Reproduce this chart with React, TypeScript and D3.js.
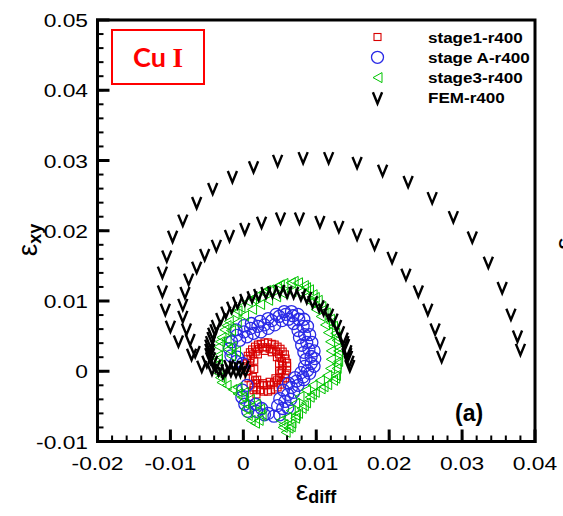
import React from 'react';
import * as d3 from 'd3';

const xDomain: [number, number] = [-0.02, 0.04];
const yDomain: [number, number] = [-0.01, 0.05];
const xTicks = [-0.02, -0.01, 0, 0.01, 0.02, 0.03, 0.04];
const yTicks = [-0.01, 0, 0.01, 0.02, 0.03, 0.04, 0.05];
const xTickLabels = ['-0.02', '-0.01', '0', '0.01', '0.02', '0.03', '0.04'];
const yTickLabels = ['-0.01', '0', '0.01', '0.02', '0.03', '0.04', '0.05'];
const legendLabels = ['stage1-r400', 'stage A-r400', 'stage3-r400', 'FEM-r400'];

// stage1-r400 (red squares)
const stage1: [number, number][] = [
  [0.0005, 0.0000], [0.0003, 0.0011], [0.0006, 0.0022], [0.0012, 0.0031], [0.0020, 0.0038], [0.0029, 0.0041],
  [0.0039, 0.0039], [0.0047, 0.0035], [0.0054, 0.0028], [0.0058, 0.0018], [0.0060, 0.0007], [0.0058, -0.0005],
  [0.0054, -0.0014], [0.0047, -0.0023], [0.0038, -0.0027], [0.0028, -0.0029], [0.0018, -0.0026], [0.0010, -0.0019],
  [0.0015, 0.0003], [0.0015, 0.0015], [0.0020, 0.0024], [0.0029, 0.0029], [0.0039, 0.0027], [0.0046, 0.0020],
  [0.0049, 0.0011], [0.0049, 0.0000], [0.0044, -0.0010], [0.0036, -0.0015], [0.0027, -0.0017], [0.0019, -0.0012],
  [0.0010, 0.0005], [0.0010, 0.0018], [0.0017, 0.0028], [0.0027, 0.0034], [0.0036, 0.0032], [0.0045, 0.0028],
  [0.0051, 0.0019], [0.0054, 0.0008], [0.0051, -0.0003], [0.0046, -0.0013], [0.0038, -0.0019], [0.0028, -0.0020],
  [0.0018, -0.0017], [0.0013, -0.0008], [0.0014, -0.0027], [0.0018, -0.0033],
  [0.0009, 0.0012], [0.0013, 0.0024], [0.0021, 0.0032], [0.0032, 0.0034], [0.0040, 0.0031], [0.0049, 0.0024],
  [0.0053, 0.0014], [0.0053, 0.0002], [0.0049, -0.0009], [0.0042, -0.0016], [0.0032, -0.0020], [0.0023, -0.0019],
  [0.0016, -0.0013],
  [0.0003, 0.0005], [0.0005, 0.0017], [0.0009, 0.0027], [0.0016, 0.0035], [0.0024, 0.0039], [0.0034, 0.0041],
  [0.0043, 0.0038], [0.0051, 0.0032], [0.0057, 0.0024], [0.0060, 0.0012], [0.0060, 0.0001], [0.0057, -0.0010],
  [0.0051, -0.0019], [0.0043, -0.0026], [0.0034, -0.0029], [0.0023, -0.0027], [0.0014, -0.0023], [0.0007, -0.0010],
];

// stage A-r400 (blue circles)
const stageA: [number, number][] = [
  [-0.0010, 0.0014], [-0.0017, 0.0022], [-0.0019, 0.0032], [-0.0016, 0.0042], [-0.0009, 0.0051], [0.0001, 0.0056],
  [0.0010, 0.0061], [0.0020, 0.0064], [0.0029, 0.0066], [0.0039, 0.0072], [0.0049, 0.0078], [0.0058, 0.0081],
  [0.0068, 0.0079], [0.0076, 0.0074], [0.0082, 0.0064], [0.0084, 0.0052], [0.0087, 0.0041], [0.0090, 0.0031],
  [0.0093, 0.0021], [0.0093, 0.0011], [0.0088, 0.0001], [0.0082, -0.0008], [0.0073, -0.0014], [0.0066, -0.0023],
  [0.0061, -0.0033], [0.0057, -0.0043], [0.0054, -0.0053], [0.0050, -0.0062], [0.0042, -0.0064], [0.0034, -0.0060],
  [0.0025, -0.0053], [0.0017, -0.0047], [0.0009, -0.0050], [0.0002, -0.0047], [-0.0002, -0.0037], [-0.0001, -0.0027],
  [0.0005, -0.0020],
  [-0.0010, 0.0059], [0.0001, 0.0065], [0.0011, 0.0068], [0.0023, 0.0071], [0.0034, 0.0075], [0.0045, 0.0081],
  [0.0056, 0.0085], [0.0066, 0.0085], [0.0075, 0.0081], [0.0083, 0.0074], [0.0088, 0.0064], [0.0091, 0.0052],
  [0.0094, 0.0041], [0.0097, 0.0029], [0.0098, 0.0018], [0.0097, 0.0007], [0.0091, -0.0003], [0.0083, -0.0012],
  [0.0075, -0.0020], [0.0069, -0.0030], [0.0065, -0.0040], [0.0061, -0.0052],
  [-0.0005, 0.0044], [0.0005, 0.0049], [0.0014, 0.0054], [0.0024, 0.0056], [0.0034, 0.0061], [0.0043, 0.0066],
  [0.0053, 0.0072], [0.0062, 0.0074], [0.0069, 0.0068], [0.0075, 0.0058], [0.0077, 0.0048], [0.0080, 0.0037],
  [0.0083, 0.0027], [0.0086, 0.0017], [0.0084, 0.0007], [0.0079, -0.0002], [0.0071, -0.0009], [0.0062, -0.0017],
  [0.0055, -0.0027], [0.0050, -0.0039], [0.0047, -0.0049],
  [0.0006, -0.0057], [0.0018, -0.0057], [0.0029, -0.0062], [-0.0008, 0.0020], [-0.0001, 0.0011],
];

// stage3-r400 (green left triangles)
const stage3: [number, number][] = [
  [-0.0030, -0.0016], [-0.0034, -0.0003], [-0.0035, 0.0010], [-0.0035, 0.0022], [-0.0034, 0.0035], [-0.0030, 0.0048],
  [-0.0026, 0.0059], [-0.0020, 0.0071], [-0.0012, 0.0082], [-0.0004, 0.0091], [0.0006, 0.0099], [0.0017, 0.0106],
  [0.0027, 0.0112], [0.0036, 0.0116], [0.0046, 0.0120], [0.0055, 0.0125], [0.0065, 0.0126], [0.0075, 0.0126],
  [0.0083, 0.0122], [0.0090, 0.0116], [0.0095, 0.0109], [0.0102, 0.0101], [0.0107, 0.0092], [0.0113, 0.0083],
  [0.0119, 0.0074], [0.0123, 0.0064], [0.0126, 0.0054], [0.0128, 0.0044], [0.0130, 0.0034], [0.0130, 0.0024],
  [0.0130, 0.0014], [0.0128, 0.0004], [0.0127, -0.0006], [0.0123, -0.0013], [0.0115, -0.0019], [0.0106, -0.0025],
  [0.0098, -0.0030], [0.0091, -0.0037], [0.0086, -0.0045], [0.0080, -0.0053], [0.0075, -0.0060], [0.0071, -0.0067],
  [0.0066, -0.0074], [0.0062, -0.0081], [0.0058, -0.0087], [0.0054, -0.0080], [0.0051, -0.0070],
  [-0.0023, 0.0045], [-0.0017, 0.0058], [-0.0009, 0.0069], [0.0001, 0.0079], [0.0012, 0.0088], [0.0023, 0.0095],
  [0.0034, 0.0101], [0.0045, 0.0106], [0.0055, 0.0110], [0.0066, 0.0113], [0.0077, 0.0112], [0.0086, 0.0106],
  [0.0093, 0.0098], [0.0099, 0.0088], [0.0106, 0.0078], [0.0112, 0.0066], [0.0116, 0.0055], [0.0119, 0.0042],
  [0.0120, 0.0029], [0.0120, 0.0017], [0.0119, 0.0004], [0.0115, -0.0006], [0.0105, -0.0013], [0.0095, -0.0020],
  [0.0086, -0.0027], [0.0077, -0.0036], [0.0071, -0.0046], [0.0065, -0.0056], [0.0060, -0.0066], [0.0055, -0.0076],
  [-0.0023, -0.0020], [-0.0015, -0.0026], [-0.0008, -0.0032], [-0.0002, -0.0037], [0.0001, -0.0046], [0.0003, -0.0054],
  [0.0006, -0.0063], [0.0010, -0.0070], [0.0016, -0.0074], [0.0021, -0.0070], [0.0025, -0.0063], [0.0023, -0.0054],
  [0.0017, -0.0047], [0.0009, -0.0040], [0.0001, -0.0030], [-0.0008, -0.0023],
  [-0.0021, 0.0031], [-0.0016, 0.0035], [-0.0010, 0.0028], [-0.0017, 0.0022],
  [-0.0032, -0.0009], [-0.0035, 0.0017], [-0.0032, 0.0042], [-0.0023, 0.0065], [-0.0008, 0.0086], [0.0012, 0.0103],
  [0.0031, 0.0115], [0.0050, 0.0123], [0.0069, 0.0128], [0.0086, 0.0119], [0.0098, 0.0105], [0.0110, 0.0088],
  [0.0120, 0.0069], [0.0127, 0.0049], [0.0130, 0.0029], [0.0128, 0.0010], [0.0126, -0.0010], [0.0110, -0.0022],
  [0.0094, -0.0033], [0.0083, -0.0049], [0.0072, -0.0063], [0.0065, -0.0079],
];

// FEM-r400 (black V)
const fem: [number, number][] = [
  [0.0380, 0.0031], [0.0376, 0.0050], [0.0367, 0.0081], [0.0355, 0.0119], [0.0336, 0.0155], [0.0314, 0.0191],
  [0.0288, 0.0220], [0.0259, 0.0247], [0.0226, 0.0270], [0.0191, 0.0286], [0.0156, 0.0297], [0.0117, 0.0304],
  [0.0082, 0.0304], [0.0047, 0.0300], [0.0014, 0.0291], [-0.0015, 0.0277], [-0.0042, 0.0260], [-0.0064, 0.0240],
  [-0.0083, 0.0215], [-0.0097, 0.0192], [-0.0105, 0.0164], [-0.0111, 0.0141], [-0.0111, 0.0114], [-0.0107, 0.0088],
  [-0.0100, 0.0064], [-0.0089, 0.0043], [-0.0071, 0.0024], [-0.0057, 0.0007], [-0.0043, 0.0003],
  [0.0272, 0.0021], [0.0270, 0.0041], [0.0263, 0.0060], [0.0253, 0.0088], [0.0240, 0.0114], [0.0223, 0.0138],
  [0.0204, 0.0162], [0.0180, 0.0181], [0.0156, 0.0195], [0.0131, 0.0206], [0.0105, 0.0213], [0.0077, 0.0218],
  [0.0051, 0.0218], [0.0025, 0.0212], [0.0002, 0.0203], [-0.0019, 0.0193], [-0.0037, 0.0179], [-0.0053, 0.0166],
  [-0.0064, 0.0148], [-0.0075, 0.0131], [-0.0080, 0.0112], [-0.0083, 0.0095], [-0.0083, 0.0078], [-0.0078, 0.0060],
  [-0.0073, 0.0045], [-0.0066, 0.0028], [-0.0050, 0.0014],
  [-0.0028, -0.0002], [-0.0038, 0.0008], [-0.0045, 0.0019], [-0.0046, 0.0031], [-0.0045, 0.0042], [-0.0042, 0.0054],
  [-0.0037, 0.0065], [-0.0031, 0.0075], [-0.0024, 0.0084], [-0.0016, 0.0091], [-0.0008, 0.0098], [0.0002, 0.0102],
  [0.0012, 0.0106], [0.0021, 0.0109], [0.0031, 0.0112], [0.0040, 0.0113], [0.0050, 0.0115], [0.0060, 0.0113],
  [0.0069, 0.0112], [0.0079, 0.0109], [0.0087, 0.0105], [0.0095, 0.0099], [0.0104, 0.0093], [0.0110, 0.0088],
  [0.0117, 0.0081], [0.0123, 0.0074], [0.0128, 0.0065], [0.0132, 0.0056], [0.0137, 0.0047], [0.0139, 0.0038],
  [0.0142, 0.0029], [0.0143, 0.0021], [0.0145, 0.0014], [0.0146, 0.0008],
  [-0.0034, 0.0002], [-0.0042, 0.0014], [-0.0046, 0.0025], [-0.0046, 0.0037], [-0.0043, 0.0048], [-0.0039, 0.0059],
  [0.0138, 0.0042], [0.0142, 0.0025],
  [-0.0024, 0.0002], [-0.0017, 0.0001], [-0.0010, 0.0000], [-0.0004, 0.0000], [0.0003, 0.0001],
  [-0.0020, 0.0008], [-0.0013, 0.0007], [-0.0006, 0.0005], [0.0001, 0.0007],
];

const RED = '#d80000';
const BLUE = '#2a2ae6';
const GREEN = '#00c400';
const FONT = '"Liberation Sans", Arial, sans-serif';

const Square = ({ cx, cy }: { cx: number; cy: number }) => (
  <rect x={cx - 3.5} y={cy - 3.5} width={7} height={7} fill="none" stroke={RED} strokeWidth={1.1} />
);
const Circ = ({ cx, cy }: { cx: number; cy: number }) => (
  <circle cx={cx} cy={cy} r={6} fill="none" stroke={BLUE} strokeWidth={1.3} />
);
const Tri = ({ cx, cy }: { cx: number; cy: number }) => (
  <path d={`M${cx - 4.5},${cy} L${cx + 4.5},${cy - 5} L${cx + 4.5},${cy + 5} Z`} fill="none" stroke={GREEN} strokeWidth={1} />
);
const Vee = ({ cx, cy }: { cx: number; cy: number }) => (
  <path d={`M${cx - 4.6},${cy - 5.6} L${cx},${cy + 5.6} L${cx + 4.6},${cy - 5.6}`} fill="none" stroke="#000" strokeWidth={2.4} strokeLinejoin="miter" />
);

export default function App() {
  const L = 97.5, R = 535, T = 20, B = 441.5;
  const x = d3.scaleLinear().domain(xDomain).range([L, R]);
  const y = d3.scaleLinear().domain(yDomain).range([B, T]);
  const minorX = x.ticks(30);
  const minorY = y.ticks(30);

  return (
    <svg width={563} height={516} style={{ position: 'absolute', left: 0, top: 0, background: '#fff' }} fontFamily={FONT}>
      <rect x={0} y={0} width={563} height={516} fill="#fff" />
      {/* series */}
      <g>{stage1.map((d, i) => <Square key={i} cx={x(d[0])} cy={y(d[1])} />)}</g>
      <g>{stageA.map((d, i) => <Circ key={i} cx={x(d[0])} cy={y(d[1])} />)}</g>
      <g>{stage3.map((d, i) => <Tri key={i} cx={x(d[0])} cy={y(d[1])} />)}</g>
      <g>{fem.map((d, i) => <Vee key={i} cx={x(d[0])} cy={y(d[1])} />)}</g>

      {/* frame */}
      <rect x={L} y={T} width={R - L} height={B - T} fill="none" stroke="#000" strokeWidth={3} />
      {/* minor ticks */}
      {minorX.map((t, i) => (
        <line key={'mx' + i} x1={x(t)} x2={x(t)} y1={B} y2={B - 6} stroke="#000" strokeWidth={2} />
      ))}
      {minorY.map((t, i) => (
        <line key={'my' + i} x1={L} x2={L + 6} y1={y(t)} y2={y(t)} stroke="#000" strokeWidth={2} />
      ))}
      {xTicks.map((t, i) => (
        <line key={'Mx' + i} x1={x(t)} x2={x(t)} y1={B + 1.5} y2={B - 12} stroke="#000" strokeWidth={3} />
      ))}
      {yTicks.map((t, i) => (
        <line key={'My' + i} x1={L - 1.5} x2={L + 12} y1={y(t)} y2={y(t)} stroke="#000" strokeWidth={3} />
      ))}
      {/* tick labels */}
      {xTicks.map((t, i) => (
        <text key={'lx' + i} transform={`translate(${x(t)},${470}) scale(1.2,1)`} textAnchor="middle" fontSize={19}>
          {xTickLabels[i]}
        </text>
      ))}
      {yTicks.map((t, i) => (
        <text key={'ly' + i} transform={`translate(${88},${y(t) + 7}) scale(1.2,1)`} textAnchor="end" fontSize={19}>
          {yTickLabels[i]}
        </text>
      ))}
      {/* axis titles */}
      <text x={316} y={500} textAnchor="middle">
        <tspan fontSize={28}>ε</tspan>
        <tspan fontSize={18} fontWeight="bold" dy={3}>diff</tspan>
      </text>
      <text transform="translate(37,240) rotate(-90)" textAnchor="middle">
        <tspan fontSize={28}>ε</tspan>
        <tspan fontSize={18} fontWeight="bold" dy={4}>xy</tspan>
      </text>

      {/* Cu I box */}
      <rect x={112} y={30} width={92} height={54} fill="none" stroke="#ff0000" strokeWidth={2} />
      <text x={133} y={67} fill="#ff0000" fontWeight="bold">
        <tspan fontFamily="Lato, 'Open Sans', sans-serif" fontSize={27}>Cu </tspan>
        <tspan fontFamily="'Liberation Serif', 'Times New Roman', serif" fontSize={27}>I</tspan>
      </text>

      {/* legend */}
      {legendLabels.map((lab, i) => {
        const cy = 37 + i * 20.3;
        return (
          <g key={'lg' + i}>
            {i === 0 && <Square cx={377.5} cy={cy} />}
            {i === 1 && <Circ cx={377.5} cy={cy} />}
            {i === 2 && <Tri cx={377.5} cy={cy} />}
            {i === 3 && <Vee cx={377.5} cy={cy} />}
            <text transform={`translate(428,${cy + 5.5}) scale(1.1,1)`} fontSize={15.5} fontWeight="bold">{lab}</text>
          </g>
        );
      })}

      {/* panel label */}
      <text x={455} y={421} fontSize={23} fontWeight="bold">(a)</text>
      {/* neighbouring panel's label, cut by the edge as in the original */}
      <text transform="translate(574,250) rotate(-90)" fontSize={28}>ε</text>
    </svg>
  );
}
